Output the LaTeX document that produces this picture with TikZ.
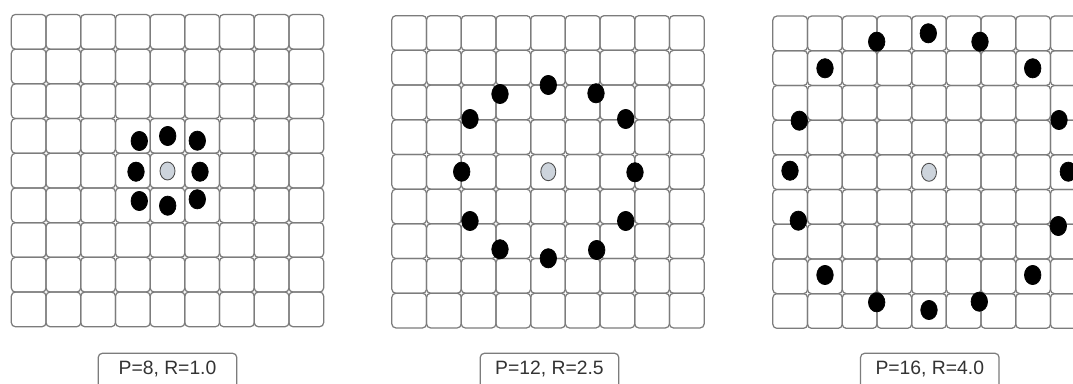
\documentclass[tikz,border=0pt]{standalone}
\usepackage{fontspec}
\setmainfont{Liberation Sans}
\usetikzlibrary{shapes.geometric}
\definecolor{gridc}{HTML}{7C7C7C}
\definecolor{centerc}{HTML}{CDD4DC}
\definecolor{txtc}{HTML}{333333}
\begin{document}
\begin{tikzpicture}[x=0.02cm,y=-0.02cm,
  cell/.style={draw=gridc, line width=0.7pt, rounded corners=2.3pt, minimum size=0.694cm, inner sep=0pt, outer sep=0pt},
  nb/.style={ellipse, fill=black, draw=black, line width=0.4pt, minimum width=0.33cm, minimum height=0.385cm, inner sep=0pt},
  ctr/.style={ellipse, fill=centerc, draw=black!70, line width=0.5pt, minimum width=0.3cm, minimum height=0.36cm, inner sep=0pt},
  lbl/.style={draw=gridc, line width=0.7pt, rounded corners=2.3pt, minimum width=2.77cm, inner xsep=0pt, inner ysep=0pt, text height=0.434cm, text depth=0.4cm, font=\fontsize{11}{13}\selectfont, text=txtc, anchor=base}]
\useasboundingbox (0,0) rectangle (1073,384);
\clip (0,0) rectangle (1073,384);
\fill[white] (0,0) rectangle (1073,384);
\foreach \g/\cx/\cy in {a/167.5/170.6, b/548/171.8, c/929/172.2} {
  \foreach \i in {0,...,8} {
    \foreach \j in {0,...,8} {
      \node[cell] (\g-\i-\j) at ({\cx+(\i-4)*34.7},{\cy+(\j-4)*34.7}) {};
    }
  }
}
% P=8, R=1.0
\node[ctr] (a-c) at (167.5,171) {};
\foreach \p [count=\k] in {(139.3,141),(167.7,136),(197.3,140.7),(136,171.7),(200,171.7),(139.3,201),(167.7,205.7),(197.3,199.3)}
  \node[nb] (a-d\k) at \p {};
% P=12, R=2.5
\node[ctr] (b-c) at (548.3,171.7) {};
\foreach \p [count=\k] in {(548.3,85),(596,93.3),(625.7,119),(635,172.3),(625.7,221),(596.7,250),(548.3,258.3),(500,249.3),(470,221),(461.7,171.7),(470,119),(500,94)}
  \node[nb] (b-d\k) at \p {};
% P=16, R=4.0
\node[ctr] (c-c) at (929,172.3) {};
\foreach \p [count=\k] in {(928.3,33.3),(980,41.7),(1032.7,68.3),(1059,120),(1068.3,171.7),(1058.3,226),(1032.7,275),(979.3,301.7),(929,310),(876.7,302.3),(825,275),(798.3,220.7),(790,170.7),(799.3,120.7),(825,68.3),(876.7,41.7)}
  \node[nb] (c-d\k) at \p {};
% labels
\node[lbl] (la) at (167.5,375) {P=8, R=1.0};
\node[lbl] (lb) at (549.5,375) {P=12, R=2.5};
\node[lbl] (lc) at (929.8,375) {P=16, R=4.0};
\end{tikzpicture}
\end{document}
